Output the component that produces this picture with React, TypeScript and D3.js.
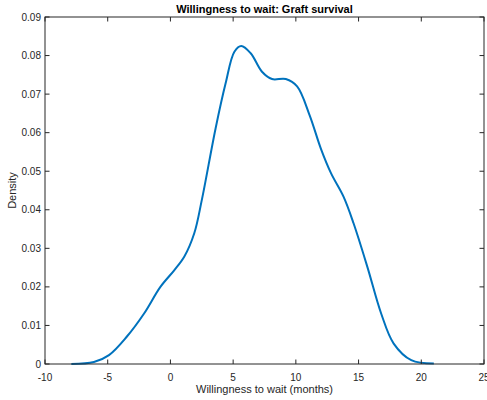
import React from "react";
import * as d3 from "d3";

const width = 487;
const height = 400;
const margin = { top: 17, right: 3, bottom: 36, left: 45 };

// density estimate
const waitMonths = [
  -7.9, -6.1, -4.9, -3.5, -2.1, -0.8, 0.3, 1.1, 1.9, 2.5, 3.6, 4.4, 5.1, 5.65,
  6.4, 7.3, 8.1, 9.2, 10.1, 11.1, 12.0, 12.8, 13.8, 14.6, 15.7, 16.8, 17.8,
  19.2, 21.0,
];
const density = [
  0.0, 0.0005, 0.0023, 0.007, 0.0131, 0.02, 0.0243, 0.0278, 0.0339, 0.0425,
  0.0611, 0.0728, 0.081, 0.0825, 0.0806, 0.0758, 0.0739, 0.0739, 0.072, 0.0645,
  0.0558, 0.0495, 0.0434, 0.0365, 0.0252, 0.0131, 0.0053, 0.001, 0.0001,
];
const xTicks = [-10, -5, 0, 5, 10, 15, 20, 25];
const yTicks = [0, 0.01, 0.02, 0.03, 0.04, 0.05, 0.06, 0.07, 0.08, 0.09];

const font = "'Liberation Sans', Arial, sans-serif";
const axisColor = "#262626";

export default function App() {
  const x = d3
    .scaleLinear()
    .domain([-10, 25])
    .range([margin.left, width - margin.right]);
  const y = d3
    .scaleLinear()
    .domain([0, 0.09])
    .range([height - margin.bottom, margin.top]);

  const points: [number, number][] = waitMonths.map((m, i) => [m, density[i]]);
  const line = d3
    .line<[number, number]>()
    .x((d) => x(d[0]))
    .y((d) => y(d[1]))
    .curve(d3.curveCatmullRom.alpha(0.5));

  const x0 = x.range()[0];
  const x1 = x.range()[1];
  const y0 = y.range()[0];
  const y1 = y.range()[1];
  const tick = 4.5;

  return (
    <div style={{ position: "fixed", left: 0, top: 0 }}>
      <svg width={width} height={height} style={{ display: "block" }}>
        <rect width={width} height={height} fill="#fff" />
        <path
          d={line(points) || ""}
          fill="none"
          stroke="#0072BD"
          strokeWidth={2}
        />
        {/* box */}
        <rect
          x={x0}
          y={y1}
          width={x1 - x0}
          height={y0 - y1}
          fill="none"
          stroke={axisColor}
          strokeWidth={1}
        />
        {xTicks.map((t) => (
          <g key={"x" + t}>
            <line x1={x(t)} x2={x(t)} y1={y0} y2={y0 - tick} stroke={axisColor} />
            <line x1={x(t)} x2={x(t)} y1={y1} y2={y1 + tick} stroke={axisColor} />
            <text
              x={x(t)}
              y={y0 + 17}
              textAnchor="middle"
              fontFamily={font}
              fontSize={10}
              fill={axisColor}
            >
              {t}
            </text>
          </g>
        ))}
        {yTicks.map((t) => (
          <g key={"y" + t}>
            <line x1={x0} x2={x0 + tick} y1={y(t)} y2={y(t)} stroke={axisColor} />
            <line x1={x1} x2={x1 - tick} y1={y(t)} y2={y(t)} stroke={axisColor} />
            <text
              x={x0 - 4}
              y={y(t) + 3.5}
              textAnchor="end"
              fontFamily={font}
              fontSize={10}
              fill={axisColor}
            >
              {t === 0 ? "0" : t.toFixed(2)}
            </text>
          </g>
        ))}
        <text
          x={(x0 + x1) / 2}
          y={13}
          textAnchor="middle"
          fontFamily={font}
          fontSize={11}
          fontWeight="bold"
          fill="#000"
        >
          Willingness to wait: Graft survival
        </text>
        <text
          x={(x0 + x1) / 2}
          y={393}
          textAnchor="middle"
          fontFamily={font}
          fontSize={11}
          fill={axisColor}
        >
          Willingness to wait (months)
        </text>
        <text
          transform={`translate(16,${(y0 + y1) / 2}) rotate(-90)`}
          textAnchor="middle"
          fontFamily={font}
          fontSize={11}
          fill={axisColor}
        >
          Density
        </text>
      </svg>
    </div>
  );
}
